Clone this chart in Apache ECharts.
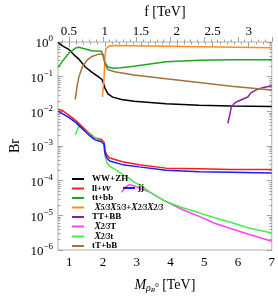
<!DOCTYPE html>
<html><head><meta charset="utf-8">
<script src="https://cdn.jsdelivr.net/npm/echarts@6/dist/echarts.min.js"></script>
<style>html,body{margin:0;padding:0;background:#fff}#c{width:278px;height:299px}</style>
</head><body><div id="c"></div>
<script>
// ---- data (M in TeV, branching ratios) ----
const M_ww = [0.674,0.8,1.0,1.15,1.29,1.48,1.67,1.86,1.97,2.01,2.06,2.15,2.29,2.55,2.92,3.87,4.85,5.80,7.0];
const Br_ww = [0.97,0.77,0.60,0.42,0.32,0.19,0.136,0.10,0.083,0.068,0.047,0.032,0.0257,0.022,0.0194,0.0165,0.015,0.0143,0.0138];

const M_ll = [0.674,0.81,1.0,1.19,1.34,1.58,1.77,1.96,2.04,2.06,2.12,2.20,2.58,3.07,3.87,4.85,5.80,7.0];
const Br_ll = [0.0116,0.0104,0.0076,0.0055,0.0040,0.0024,0.0017,0.00155,0.00125,0.00075,0.00055,0.00045,0.00035,0.00029,0.00023,0.00022,0.00021,0.00021];

const M_jj = [0.674,1.0,1.19,1.34,1.58,1.77,1.96,2.04,2.06,2.12,2.20,2.58,3.07,3.87,4.85,5.80,7.0];
const Br_jj = [0.0102,0.0066,0.0048,0.0035,0.0021,0.0015,0.00133,0.0011,0.00062,0.00045,0.00037,0.00029,0.00025,0.0002,0.00018,0.000174,0.000166];

const M_tt = [0.674,0.81,1.0,1.19,1.29,1.48,1.67,1.96,2.01,2.06,2.15,2.30,2.54,2.92,3.87,4.85,5.80,7.0];
const Br_tt = [0.185,0.285,0.49,0.67,0.71,0.63,0.56,0.54,0.53,0.26,0.19,0.176,0.18,0.20,0.27,0.30,0.31,0.31];

const M_x53 = [1.985,2.03,2.06,2.09,2.17,2.35,2.92,4.94,7.0];
const Br_x53 = [0.026,0.08,0.39,0.64,0.75,0.79,0.78,0.73,0.68];

const M_TT = [5.70,5.75,5.80,5.89,6.0,6.29,6.38,6.57,6.76,7.0];
const Br_TT = [0.0045,0.0074,0.013,0.017,0.0196,0.026,0.034,0.043,0.049,0.055];

const M_x23T = [2.55,2.68,2.78,2.92,3.40,3.79,4.36,4.85,5.31,5.80,6.29,7.0];
const Br_x23T = [4.6e-5,6.7e-5,7.6e-5,7.1e-5,4.6e-5,2.75e-5,1.45e-5,9.3e-6,5.9e-6,4.1e-6,2.9e-6,1.78e-6];

const M_x23t = [1.18,1.29,1.48,1.67,1.86,2.01,2.04,2.07,2.12,2.20,2.39,2.59,2.78,2.92,3.15,3.40,3.87,4.36,4.85,5.31,5.80,6.29,7.0];
const Br_x23t = [0.0021,0.0038,0.0027,0.0019,0.00155,0.00125,0.0008,0.00048,0.00033,0.00026,0.000204,0.00015,0.000118,9.1e-5,7.1e-5,4.6e-5,2.5e-5,1.65e-5,1.18e-5,8.5e-6,6.2e-6,4.4e-6,3.1e-6];

const M_tT = [1.18,1.24,1.29,1.39,1.53,1.67,1.86,2.01,2.06,2.15,2.35,2.92,3.87,4.85,5.80,7.0];
const Br_tT = [0.022,0.057,0.099,0.19,0.30,0.38,0.44,0.44,0.23,0.158,0.139,0.112,0.087,0.068,0.053,0.041];

const xTicks = [1,2,3,4,5,6,7];
const xMinor = [0.8,1.2,1.4,1.6,1.8,2.2,2.4,2.6,2.8,3.2,3.4,3.6,3.8,4.2,4.4,4.6,4.8,5.2,5.4,5.6,5.8,6.2,6.4,6.6,6.8];
const fTicks = [0.5,1,1.5,2,2.5,3];
const fMinor = [0.4,0.6,0.7,0.8,0.9,1.1,1.2,1.3,1.4,1.6,1.7,1.8,1.9,2.1,2.2,2.3,2.4,2.6,2.7,2.8,2.9,3.1,3.2,3.3];
const yExp = [-6,-5,-4,-3,-2,-1,0];

// ---- chart ----
const serif = 'Liberation Serif';
const zip = (a,b)=>a.map((v,i)=>[v,b[i]]);
const yMinor = [];
for (let n=-6;n<0;n++) for (let k=2;k<=9;k++) yMinor.push(Math.log10(k)+n);

const series = [
  {name:'WW+ZH', color:'#000000', d:zip(M_ww,Br_ww)},
  {name:'ll+νν', color:'#ff1a1a', d:zip(M_ll,Br_ll)},
  {name:'tt+bb', color:'#1fa51f', d:zip(M_tt,Br_tt)},
  {name:'X53', color:'#ff8c1e', d:zip(M_x53,Br_x53)},
  {name:'TT+BB', color:'#8b1f9b', d:zip(M_TT,Br_TT)},
  {name:'X23T', color:'#ff40ff', d:zip(M_x23T,Br_x23T)},
  {name:'X23t', color:'#44ee44', d:zip(M_x23t,Br_x23t)},
  {name:'tT+bB', color:'#a57040', d:zip(M_tT,Br_tT)},
  {name:'jj', color:'#1a1aff', d:zip(M_jj,Br_jj)}
].map(s=>({type:'line', name:s.name, data:s.d, xAxisIndex:0, yAxisIndex:0, showSymbol:false, symbol:'none',
  color:s.color, lineStyle:{width:1.5, color:s.color}, itemStyle:{color:s.color}, z:3, animation:false}));

const legendRich = {
  t:{fontSize:9, fontWeight:'bold', fontFamily:serif, color:'#000'},
  ti:{fontSize:9.5, fontWeight:'bold', fontStyle:'italic', fontFamily:serif, color:'#000'},
  s:{fontSize:7.5, fontWeight:'bold', fontStyle:'italic', fontFamily:serif, color:'#000', verticalAlign:'bottom', padding:[3,0,0,0]}
};
const legendLabel = {
  'WW+ZH':'{t|WW+ZH}',
  'll+νν':'{t|ll+}{ti|νν}',
  'tt+bb':'{t|tt+bb}',
  'X53':'{ti| X}{s|5/3}{ti|X}{s|5/3}{t|+}{ti|X}{s|2/3}{ti|X}{s|2/3}',
  'TT+BB':'{t|TT+BB}',
  'X23T':'{ti| X}{s|2/3}{t|T}',
  'X23t':'{ti| X}{s|2/3}{t|t}',
  'tT+bB':'{t|tT+bB}',
  'jj':'{t|jj}'
};
const legBase = {orient:'vertical', icon:'rect', itemWidth:12, itemHeight:2, itemGap:0, padding:0,
  textStyle:{fontSize:9, lineHeight:9, padding:[0,0,0,3], rich:legendRich},
  formatter:n=>legendLabel[n], selectedMode:false};

const tickCol = '#a0a0a0';
const lab = {fontFamily:serif, fontSize:13, color:'#000'};

const option = {
  animation:false,
  grid:{left:52, top:40, right:6, bottom:42, show:true, borderColor:'#b0b0b0', borderWidth:1, backgroundColor:'transparent'},
  legend:[
    Object.assign({}, legBase, {left:72, top:174.5, data:['WW+ZH','ll+νν','tt+bb','X53','TT+BB','X23T','X23t','tT+bB']}),
    Object.assign({}, legBase, {left:123, top:183.5, textStyle:Object.assign({}, legBase.textStyle, {padding:[0,0,0,-2]}), data:['jj']})
  ],
  xAxis:[
    {type:'value', position:'bottom', min:0.67, max:7, axisLine:{show:false}, splitLine:{show:false},
     axisTick:{inside:true, length:5, lineStyle:{color:tickCol}, customValues:xTicks},
     axisLabel:Object.assign({customValues:xTicks, margin:6}, lab),
     name:'{i|M}{s|ρ}{ss|R}{sp|0}{n| [TeV]}', nameLocation:'middle', nameGap:26,
     nameTextStyle:{rich:{
       i:{fontFamily:serif, fontSize:14, fontStyle:'italic', color:'#000'},
       s:{fontFamily:serif, fontSize:10, fontStyle:'italic', color:'#000', padding:[6,0,0,0]},
       ss:{fontFamily:serif, fontSize:7, fontStyle:'italic', color:'#000', padding:[11,0,0,0]},
       sp:{fontFamily:serif, fontSize:7, color:'#000', padding:[0,0,0,0]},
       n:{fontFamily:serif, fontSize:14, color:'#000'}}}},
    {type:'value', position:'bottom', min:0.67, max:7, axisLine:{show:false}, splitLine:{show:false},
     axisTick:{inside:true, length:2.5, lineStyle:{color:tickCol}, customValues:xMinor}, axisLabel:{show:false}},
    {type:'value', position:'top', min:0.35, max:3.32, axisLine:{show:false}, splitLine:{show:false},
     axisTick:{inside:true, length:5, lineStyle:{color:tickCol}, customValues:fTicks},
     axisLabel:Object.assign({customValues:fTicks, margin:4, formatter:v=>String(v)}, lab),
     name:'f [TeV]', nameLocation:'middle', nameGap:23, nameTextStyle:{fontFamily:serif, fontSize:14, color:'#000'}},
    {type:'value', position:'top', min:0.35, max:3.32, axisLine:{show:false}, splitLine:{show:false},
     axisTick:{inside:true, length:2.5, lineStyle:{color:tickCol}, customValues:fMinor}, axisLabel:{show:false}}
  ],
  yAxis:[
    {type:'log', logBase:10, min:1e-6, max:1, position:'left', axisLine:{show:false}, axisTick:{show:false},
     axisLabel:{show:false}, splitLine:{show:false},
     name:'Br', nameLocation:'middle', nameGap:36, nameRotate:90, nameTextStyle:{fontFamily:serif, fontSize:14, color:'#000'}},
    {type:'value', min:-6, max:0, position:'left', axisLine:{show:false}, splitLine:{show:false},
     axisTick:{inside:true, length:5, lineStyle:{color:tickCol}, customValues:yExp},
     axisLabel:{customValues:yExp, margin:5, formatter:v=>'{b|10}{e|'+(v===0?'0':'−'+(-v))+'}',
       rich:{b:{fontFamily:serif, fontSize:13, color:'#000', padding:[4,0,0,0]}, e:{fontFamily:serif, fontSize:9, color:'#000', padding:[0,0,6,0]}}}},
    {type:'value', min:-6, max:0, position:'left', axisLine:{show:false}, splitLine:{show:false},
     axisTick:{inside:true, length:2.5, lineStyle:{color:tickCol}, customValues:yMinor}, axisLabel:{show:false}},
    {type:'value', min:-6, max:0, position:'right', axisLine:{show:false}, splitLine:{show:false},
     axisTick:{inside:true, length:5, lineStyle:{color:tickCol}, customValues:yExp}, axisLabel:{show:false}},
    {type:'value', min:-6, max:0, position:'right', axisLine:{show:false}, splitLine:{show:false},
     axisTick:{inside:true, length:2.5, lineStyle:{color:tickCol}, customValues:yMinor}, axisLabel:{show:false}}
  ],
  series:series
};
const chart = echarts.init(document.getElementById('c'), null, {renderer:'canvas'});
chart.setOption(option);
</script></body></html>
